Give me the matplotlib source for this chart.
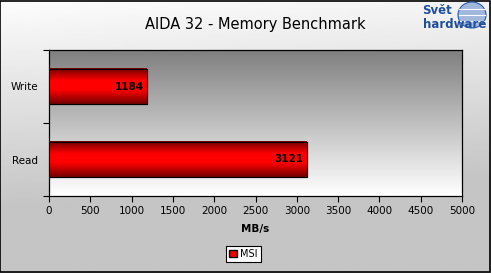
import numpy as np
import matplotlib.pyplot as plt
from matplotlib.patches import Rectangle, Ellipse

categories = ['Read', 'Write']
values = [3121, 1184]
series_name = 'MSI'
xticks = [0, 500, 1000, 1500, 2000, 2500, 3000, 3500, 4000, 4500, 5000]

W, H = 491, 273
fig = plt.figure(figsize=(W / 100, H / 100), dpi=100)

# figure background gradient (light top -> gray bottom)
bg = fig.add_axes([0, 0, 1, 1], zorder=-10)
gx = np.linspace(0, 1, 200)
gy = np.linspace(0, 1, 120)
GX, GY = np.meshgrid(gx, gy)
g = 0.99 - 0.22 * np.clip(1.3 * GY + 0.15 * GX, 0, 1)
bg.imshow(g, cmap='gray', vmin=0, vmax=1, extent=[0, 1, 0, 1], aspect='auto', origin='upper')
bg.set_xlim(0, 1)
bg.set_ylim(0, 1)
bg.axis('off')
fig.patches.append(Rectangle((0.001, 0.002), 0.997, 0.995, transform=fig.transFigure,
                             fill=False, edgecolor='black', linewidth=1.2))

ax = fig.add_axes([49 / W, 1 - 196 / H, (462 - 49) / W, (196 - 50) / H])
ax.set_facecolor('none')

# plot area gradient: gray top -> white bottom
pg = np.linspace(0.5, 1.0, 100).reshape(-1, 1)
ax.imshow(pg, cmap='gray', vmin=0, vmax=1, extent=[0, 1, 0, 1], aspect='auto',
          origin='upper', transform=ax.transAxes, zorder=0)

bar_h = 0.48
ypos = np.arange(len(categories))
bars = ax.barh(ypos, values, height=bar_h, color='#ff0000', edgecolor='black',
               linewidth=0.8, zorder=2)

# cylinder shading on bars (dark edges, bright middle)
t = np.linspace(0, 1, 100)
shade = np.interp(t, [0, 0.35, 0.6, 1], [0.45, 1.0, 1.0, 0.45])
rgb = np.zeros((100, 1, 3))
rgb[:, 0, 0] = shade
for b in bars:
    x0, y0 = b.get_x(), b.get_y()
    ax.imshow(rgb, extent=[x0, x0 + b.get_width(), y0, y0 + b.get_height()],
              aspect='auto', zorder=3, interpolation='bilinear')
    ax.add_patch(Rectangle((x0, y0), b.get_width(), b.get_height(), fill=False,
                           edgecolor='black', linewidth=0.8, zorder=4))

for y, v in zip(ypos, values):
    ax.text(v - 40, y, str(v), ha='right', va='center', fontsize=7.5,
            fontweight='bold', color='black', zorder=5)

ax.set_xlim(0, 5000)
ax.set_ylim(-0.5, 1.5)
ax.set_xticks(xticks)
ax.set_xticklabels([str(t) for t in xticks], fontsize=7.5)
ax.set_yticks(ypos)
ax.set_yticklabels(categories, fontsize=7.5)
ax.set_yticks([-0.5, 0.5, 1.5], minor=True)
ax.tick_params(axis='y', which='major', length=0, pad=8)
ax.tick_params(axis='y', which='minor', length=4, width=0.8, direction='out')
ax.tick_params(axis='x', length=4, width=0.8, direction='out', pad=3)
for s in ax.spines.values():
    s.set_linewidth(0.9)
ax.set_xlabel('MB/s', fontsize=7.5, fontweight='bold', labelpad=6)

fig.text(255.5 / W, 1 - 24 / H, 'AIDA 32 - Memory Benchmark', ha='center', va='center',
         fontsize=10.5, color='black')

# logo: globe + text
fig.patches.append(Ellipse((472 / W, 1 - 15 / H), 28 / W, 26 / H, transform=fig.transFigure,
                           facecolor='#9fb8dc', edgecolor='#2a5db0', linewidth=0.8, zorder=1))
for dy in (-6, 0, 6):
    fig.lines.append(plt.Line2D([459 / W, 485 / W], [1 - (15 + dy) / H] * 2,
                                transform=fig.transFigure, color='white', linewidth=0.8))
fig.text(437 / W, 1 - 10 / H, 'Svět', ha='center', va='center', fontsize=8.5,
         fontweight='bold', color='#1f4e9a', zorder=3)
fig.text(455 / W, 1 - 24 / H, 'hardware', ha='center', va='center', fontsize=8.5,
         fontweight='bold', color='#1f4e9a', zorder=3)

leg = fig.legend([Rectangle((0, 0), 1, 1, facecolor='#ee0000', edgecolor='black')],
                 [series_name], loc='center', bbox_to_anchor=(243 / W, 1 - 254 / H),
                 fontsize=7, frameon=True, fancybox=False, handlelength=0.8,
                 handleheight=0.8, handletextpad=0.3, borderpad=0.35, borderaxespad=0)
leg.get_frame().set_edgecolor('black')
leg.get_frame().set_linewidth(0.8)
leg.get_frame().set_facecolor('white')
leg.get_frame().set_alpha(1)

fig.savefig('out.png', dpi=100)
